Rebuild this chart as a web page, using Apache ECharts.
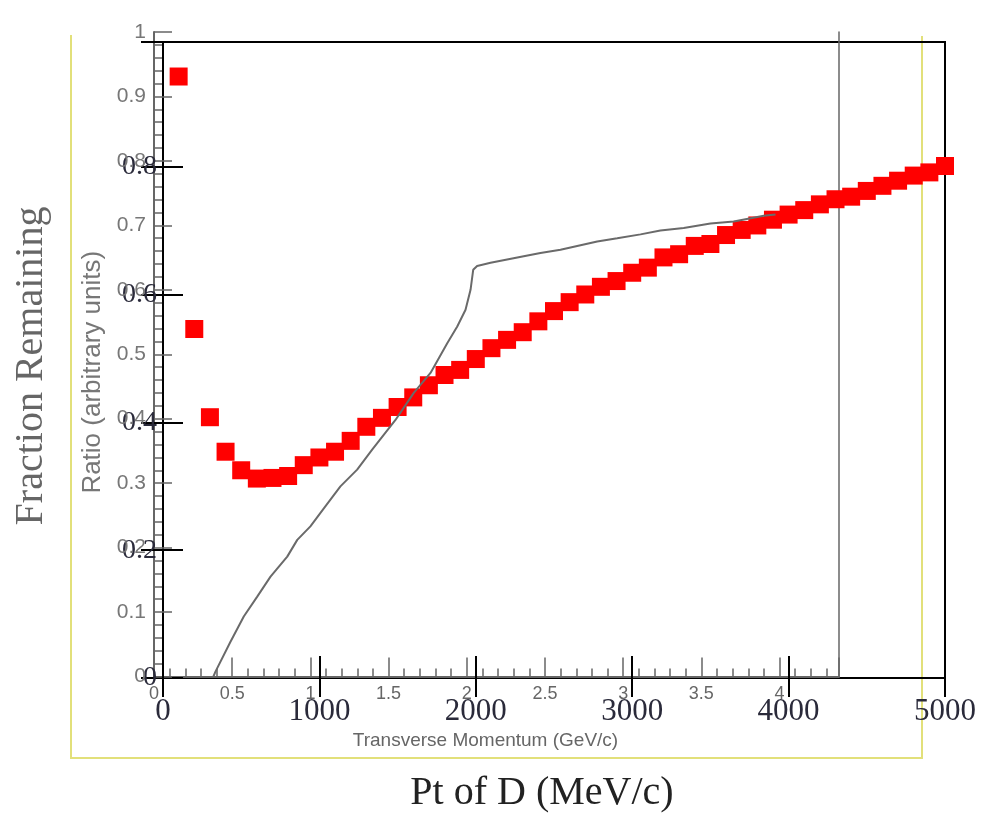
<!DOCTYPE html>
<html>
<head>
<meta charset="utf-8">
<script src="https://cdn.jsdelivr.net/npm/echarts@6/dist/echarts.min.js"></script>
<style>
html,body{margin:0;padding:0;background:#fff;}
#chart{width:988px;height:818px;}
</style>
</head>
<body>
<div id="chart"></div>
<script>
// Outer chart: Fraction Remaining vs Pt of D (MeV/c)
const ptD = [100,200,300,400,500,600,700,800,900,1000,
  1100,1200,1300,1400,1500,1600,1700,1800,1900,2000,
  2100,2200,2300,2400,2500,2600,2700,2800,2900,3000,
  3100,3200,3300,3400,3500,3600,3700,3800,3900,4000,
  4100,4200,4300,4400,4500,4600,4700,4800,4900,5000];
const fractionRemaining = [0.941,0.546,0.408,0.354,0.325,0.312,0.313,0.316,0.333,0.345,
  0.354,0.371,0.393,0.407,0.424,0.439,0.458,0.474,0.482,0.499,
  0.516,0.529,0.541,0.558,0.574,0.588,0.600,0.612,0.621,0.634,
  0.642,0.658,0.663,0.676,0.679,0.693,0.701,0.708,0.717,0.725,
  0.732,0.741,0.749,0.753,0.762,0.770,0.778,0.786,0.791,0.801];

// Inner chart: Ratio (arbitrary units) vs Transverse Momentum (GeV/c)
const transverseMomentum = [0.38,0.393,0.489,0.574,0.66,0.745,0.852,0.916,1.0,1.086,
  1.192,1.299,1.395,1.544,1.661,1.768,1.875,1.939,1.992,2.024,
  2.041,2.066,2.152,2.258,2.364,2.471,2.599,2.706,2.834,2.962,
  3.111,3.238,3.387,3.558,3.707,3.899,3.974];
const ratio = [0,0.0075,0.054,0.093,0.124,0.155,0.186,0.212,0.233,0.261,
  0.295,0.321,0.352,0.398,0.44,0.471,0.517,0.543,0.569,0.6,
  0.631,0.637,0.642,0.647,0.652,0.657,0.662,0.668,0.675,0.68,
  0.686,0.692,0.696,0.703,0.706,0.715,0.717];

const outerData = ptD.map((x, i) => [x, fractionRemaining[i]]);
const innerData = transverseMomentum.map((x, i) => [x, ratio[i]]);

const serif = 'Liberation Serif';
const sans = 'Liberation Sans';

const chart = echarts.init(document.getElementById('chart'), null, {renderer: 'canvas'});
chart.setOption({
  animation: false,
  backgroundColor: '#fff',
  graphic: [
    {type: 'polyline', shape: {points: [[71, 35], [71, 758], [922, 758], [922, 36]]},
     style: {stroke: '#e2e07a', lineWidth: 2, fill: null}, z: -1}
  ],
  grid: [
    {left: 163, right: 43, top: 42, bottom: 140, show: true, borderColor: '#000', borderWidth: 2, backgroundColor: 'transparent'},
    {left: 154, right: 149, top: 32, bottom: 141.5, show: false}
  ],
  xAxis: [
    {gridIndex: 0, type: 'value', min: 0, max: 5000, interval: 1000, position: 'bottom',
     axisLine: {show: true, lineStyle: {color: '#000', width: 2}},
     axisTick: {show: true, inside: true, length: 22, lineStyle: {color: '#000', width: 2}},
     axisLabel: {fontFamily: serif, fontSize: 31, color: '#2a2a3a', margin: 18,
                 formatter: v => String(v)},
     splitLine: {show: false},
     name: 'Pt of D (MeV/c)', nameLocation: 'middle', nameGap: 95,
     nameTextStyle: {fontFamily: serif, fontSize: 40, color: '#222', padding: [0, 24, 0, 0]}},
    {gridIndex: 0, type: 'value', min: 0, max: 5000, interval: 1000, position: 'top',
     axisLine: {show: true, lineStyle: {color: '#000', width: 2}},
     axisTick: {show: true, inside: true, length: 19, lineStyle: {color: '#000', width: 2}},
     axisLabel: {show: false}, splitLine: {show: false}},
    {gridIndex: 1, type: 'value', min: 0, max: 4.38, interval: 0.5, position: 'bottom',
     axisLine: {show: true, lineStyle: {color: '#666', width: 2}},
     axisTick: {show: true, inside: true, length: 19, lineStyle: {color: '#666', width: 1.5}},
     minorTick: {show: true, splitNumber: 5, length: 8, lineStyle: {color: '#666', width: 1.5}},
     axisLabel: {fontFamily: sans, fontSize: 18, color: '#666', margin: 9, showMaxLabel: false},
     splitLine: {show: false},
     name: 'Transverse Momentum (GeV/c)', nameLocation: 'middle', nameGap: 55,
     nameTextStyle: {fontFamily: sans, fontSize: 19, color: '#666', padding: [0, 22, 0, 0]}}
  ],
  yAxis: [
    {gridIndex: 0, type: 'value', min: 0, max: 0.995, interval: 0.2, position: 'left',
     axisLine: {show: true, lineStyle: {color: '#000', width: 2}},
     axisTick: {show: true, inside: true, length: 20, lineStyle: {color: '#000', width: 2}},
     axisLabel: {fontFamily: serif, fontSize: 28, color: '#2a2a3a', margin: 6, showMaxLabel: false},
     splitLine: {show: false},
     name: 'Fraction Remaining', nameLocation: 'middle', nameGap: 112,
     nameTextStyle: {fontFamily: serif, fontSize: 40, color: '#666', padding: [0, 12, 0, 0]}},
    {gridIndex: 0, type: 'value', min: 0, max: 0.995, interval: 0.2, position: 'right',
     axisLine: {show: true, lineStyle: {color: '#000', width: 2}},
     axisTick: {show: true, inside: true, length: 22, lineStyle: {color: '#000', width: 2}},
     axisLabel: {show: false}, splitLine: {show: false}},
    {gridIndex: 1, type: 'value', min: 0, max: 1, interval: 0.1, position: 'left',
     axisLine: {show: true, lineStyle: {color: '#666', width: 2}},
     axisTick: {show: true, inside: true, length: 18, lineStyle: {color: '#666', width: 1.5}},
     minorTick: {show: true, splitNumber: 5, length: 8, lineStyle: {color: '#666', width: 1.5}},
     axisLabel: {fontFamily: sans, fontSize: 21, color: '#777', margin: 8},
     splitLine: {show: false},
     name: 'Ratio (arbitrary units)', nameLocation: 'middle', nameGap: 37,
     nameTextStyle: {fontFamily: sans, fontSize: 26, color: '#777', padding: [0, 36, 0, 0]}},
    {gridIndex: 1, type: 'value', min: 0, max: 1, interval: 0.1, position: 'right',
     axisLine: {show: true, lineStyle: {color: '#666', width: 1.5}},
     axisTick: {show: false}, axisLabel: {show: false}, splitLine: {show: false}}
  ],
  series: [
    {type: 'scatter', xAxisIndex: 0, yAxisIndex: 0, data: outerData,
     symbol: 'rect', symbolSize: 18, itemStyle: {color: '#ff0000', opacity: 1}, clip: true, z: 2},
    {type: 'line', xAxisIndex: 2, yAxisIndex: 2, data: innerData,
     showSymbol: false, symbol: 'none', lineStyle: {color: '#6a6a6a', width: 2}, z: 3}
  ]
});
</script>
</body>
</html>
